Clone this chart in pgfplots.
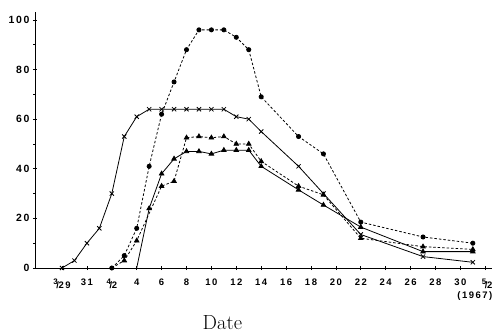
\documentclass[border=0pt]{standalone}
\usepackage{fontspec}
\usepackage{pgfplots}
\pgfplotsset{compat=1.18}
\usetikzlibrary{calc}
\newfontfamily\tickfont[LetterSpace=16]{Liberation Sans}
\newcommand\frc[2]{\raisebox{0.5em}{\fontsize{8}{8}\selectfont #1}\kern-0.15em/\kern-0.05em#2}
\begin{document}
\begin{tikzpicture}
\begin{axis}[
  scale only axis, width=457bp, height=256bp,
  xmin=-2.17, xmax=34.54, ymin=0, ymax=103.2,
  axis x line=bottom, axis y line=left,
  axis line style={-, line width=0.8pt},
  xtick={0,2,...,34},
  xticklabels={\frc{3}{29},31,\frc{4}{2},4,6,8,10,12,14,16,18,20,22,24,26,28,30,{\makebox[14bp][r]{\begin{tabular}[t]{@{}r@{}}\frc{5}{2}\\[-1pt](1967)\end{tabular}}}},
  ytick={0,20,...,100}, minor ytick={10,30,...,90},
  tick style={black, line width=0.6pt},
  major tick length=4bp, minor tick length=3bp,
  tick align=center,
  /pgf/number format/assume math mode=true,
  xticklabel style={font=\tickfont\bfseries\fontsize{9.5}{10.5}\selectfont, yshift=-5bp},
  yticklabel style={font=\tickfont\bfseries\fontsize{10.5}{11}\selectfont},
  xlabel={Date},
  xlabel style={font=\fontsize{20.5}{24}\selectfont, at={(axis description cs:0.41,-0.215)}, anchor=center},
  clip=false,
]
\coordinate (O) at (rel axis cs:0,0);
% circles, dashed
\addplot[black, line width=0.8pt, dash pattern=on 2.5pt off 2pt, mark=*, mark size=2.1pt, mark options={solid}] coordinates {
(4,0) (5,5) (6,16) (7,41) (8,62) (9,75) (10,88) (11,96) (12,96) (13,96) (14,93) (15,88) (16,69) (19,53) (21,46) (24,18.5) (29,12.5) (33,10)};
% crosses, solid
\addplot[black, line width=0.8pt, mark=x, mark size=3pt, mark options={solid, line width=0.8pt}] coordinates {
(0,0) (1,3) (2,10) (3,16) (4,30) (5,53) (6,61) (7,64) (8,64) (9,64) (10,64) (11,64) (12,64) (13,64) (14,61) (15,60) (16,55) (19,41) (21,30) (24,13.5) (29,4.6) (33,2.3)};
% triangles, dashed
\addplot[black, line width=0.8pt, dash pattern=on 2.5pt off 2pt, mark=triangle*, mark size=2.6pt, mark options={solid}, mark indices={2,...,17}] coordinates {
(4,0) (5,3) (6,11) (8,33) (9,35) (10,52.5) (11,53) (12,52.5) (13,53) (14,50) (15,50) (16,43) (19,33) (21,29.5) (24,12) (29,8.6) (33,7.5)};
% triangles, solid
\addplot[black, line width=0.8pt, mark=triangle*, mark size=2.6pt, mark options={solid}, mark indices={2,...,16}] coordinates {
(6,0) (7,24) (8,38) (9,44) (10,47) (11,47) (12,46) (13,47.5) (14,47.5) (15,47.5) (16,41) (19,31.5) (21,25.4) (24,16.5) (29,6.6) (33,6.6)};
\end{axis}
\pgfresetboundingbox
\path[use as bounding box] ($(O)+(-35bp,-65bp)$) rectangle ($(O)+(461bp,268bp)$);
\end{tikzpicture}
\end{document}
